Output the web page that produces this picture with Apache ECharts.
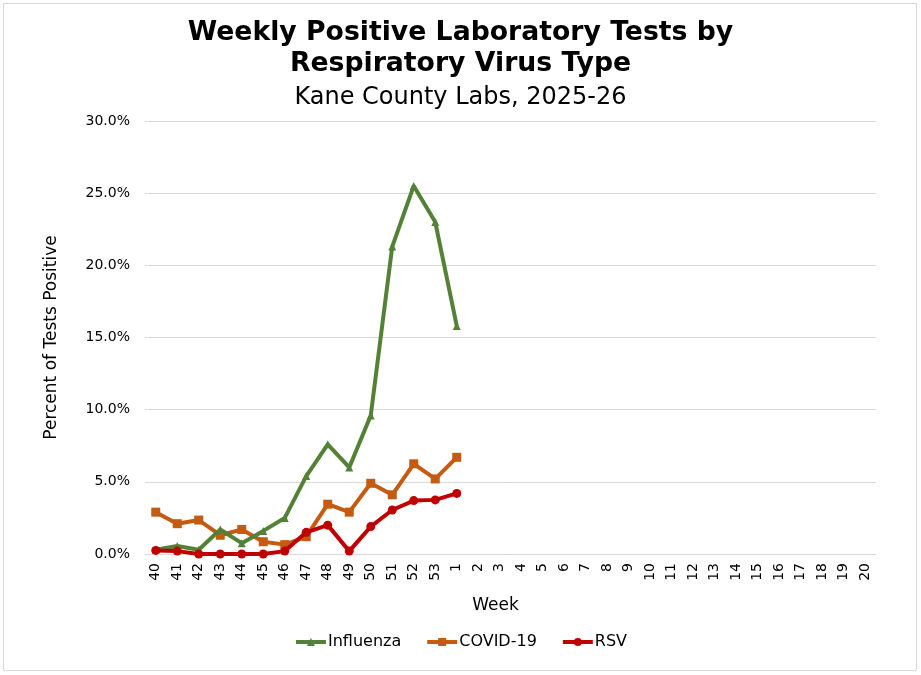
<!DOCTYPE html>
<html>
<head>
<meta charset="utf-8">
<script src="https://cdn.jsdelivr.net/npm/echarts@6/dist/echarts.min.js"></script>
<style>
html, body { margin: 0; padding: 0; background: #fff; }
#main { width: 921px; height: 675px; }
</style>
</head>
<body>
<div id="main"></div>
<script>
// weeks of the 2025-26 season
var weeks = ['40','41','42','43','44','45','46','47','48','49','50','51','52','53',
             '1','2','3','4','5','6','7','8','9','10','11','12','13','14','15','16','17','18','19','20'];

// percent positive
var influenza = [0.3, 0.55, 0.3, 1.7, 0.75, 1.6, 2.5, 5.4, 7.6, 6.0, 9.6, 21.3, 25.5, 23.0, 15.8];
var covid     = [2.9, 2.1, 2.35, 1.3, 1.7, 0.85, 0.65, 1.2, 3.45, 2.9, 4.9, 4.1, 6.25, 5.2, 6.7];
var rsv       = [0.25, 0.2, 0.0, 0.0, 0.0, 0.0, 0.2, 1.5, 2.0, 0.2, 1.9, 3.05, 3.7, 3.75, 4.2];

var yTicks = { min: 0, max: 30, interval: 5 };

var font = 'Verdana, "DejaVu Sans", sans-serif';

var myChart = echarts.init(document.getElementById('main'));
var option = {
    backgroundColor: '#fff',
    title: [
        {
            text: 'Weekly Positive Laboratory Tests by\nRespiratory Virus Type',
            left: 'center',
            top: 13,
            textStyle: { fontFamily: font, fontSize: 26.7, fontWeight: 'bold', color: '#000', lineHeight: 31 }
        },
        {
            text: 'Kane County Labs, 2025-26',
            left: 'center',
            top: 81,
            textStyle: { fontFamily: font, fontSize: 24, fontWeight: 'normal', color: '#000' }
        }
    ],
    graphic: [
        {
            type: 'rect',
            shape: { x: 3.5, y: 3.5, width: 913, height: 667 },
            style: { fill: 'none', stroke: '#d9d9d9', lineWidth: 1 },
            silent: true
        }
    ],
    legend: {
        bottom: 20,
        left: 'center',
        itemWidth: 30,
        itemHeight: 10,
        itemGap: 24,
        lineStyle: { width: 4 },
        textStyle: { fontFamily: font, fontSize: 16, color: '#000', padding: [0, 0, 0, -3] },
        data: ['Influenza', 'COVID-19', 'RSV']
    },
    grid: { left: 145, right: 45, top: 121, bottom: 121 },
    xAxis: {
        type: 'category',
        data: weeks,
        boundaryGap: true,
        name: 'Week',
        nameLocation: 'middle',
        nameGap: 43,
        nameTextStyle: { fontFamily: font, fontSize: 17, color: '#000', padding: [0, 30, 0, 0] },
        axisLine: { show: true, lineStyle: { color: '#d9d9d9' } },
        axisTick: { show: false },
        axisLabel: { rotate: 90, interval: 0, fontFamily: font, fontSize: 14, color: '#000', margin: 9 },
        splitLine: { show: false }
    },
    yAxis: {
        type: 'value',
        min: yTicks.min,
        max: yTicks.max,
        interval: yTicks.interval,
        name: 'Percent of Tests Positive',
        nameLocation: 'middle',
        nameGap: 85,
        nameTextStyle: { fontFamily: font, fontSize: 17, color: '#000' },
        axisLine: { show: false },
        axisTick: { show: false },
        axisLabel: {
            fontFamily: font, fontSize: 14, color: '#000', margin: 15,
            formatter: function (v) { return v.toFixed(1) + '%'; }
        },
        splitLine: { lineStyle: { color: '#d9d9d9', width: 1 } }
    },
    series: [
        {
            name: 'Influenza',
            type: 'line',
            data: influenza,
            color: '#538135',
            symbol: 'triangle',
            symbolSize: 8,
            lineStyle: { width: 4 },
            z: 3
        },
        {
            name: 'COVID-19',
            type: 'line',
            data: covid,
            color: '#C55A11',
            symbol: 'rect',
            symbolSize: 9,
            lineStyle: { width: 4 },
            z: 2
        },
        {
            name: 'RSV',
            type: 'line',
            data: rsv,
            color: '#C00000',
            symbol: 'circle',
            symbolSize: 9,
            lineStyle: { width: 4 },
            z: 4
        }
    ]
};
myChart.setOption(option, true);
</script>
</body>
</html>
